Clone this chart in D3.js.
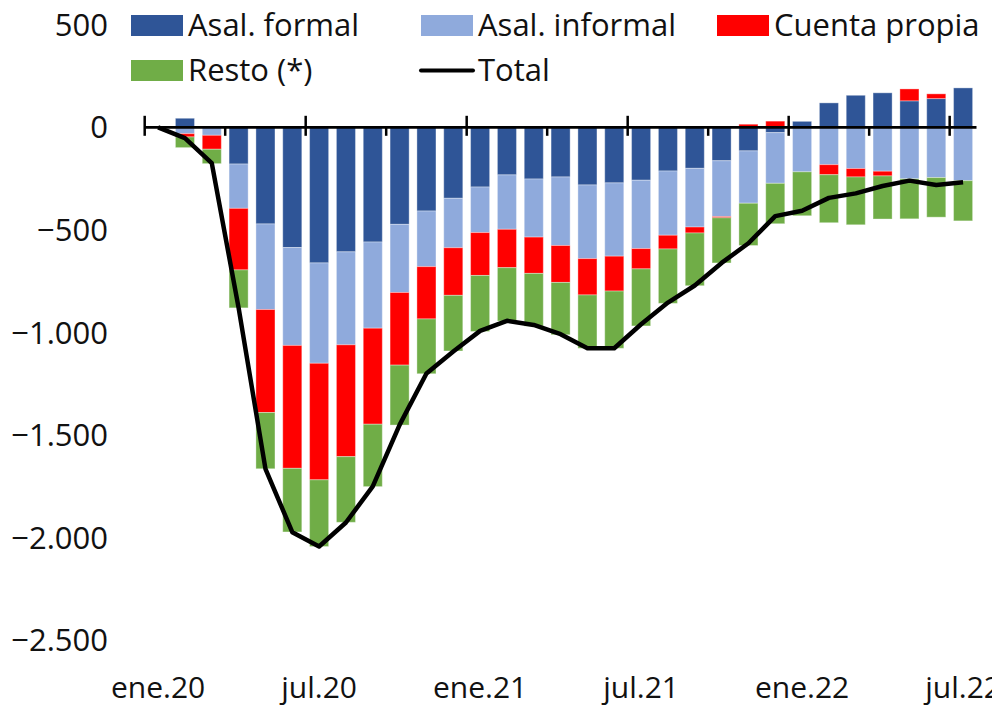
<!DOCTYPE html>
<html>
<head>
<meta charset="utf-8">
<script src="https://cdn.jsdelivr.net/npm/d3@7"></script>
<style>
body { margin: 0; background: #fff; }
text { font-family: "Open Sans", "DejaVu Sans", sans-serif; fill: #111; }
</style>
</head>
<body>
<div id="chart"></div>
<script>
// months ene.20 .. jul.22
var months = ["ene.20","feb.20","mar.20","abr.20","may.20","jun.20","jul.20","ago.20","sep.20","oct.20","nov.20","dic.20",
  "ene.21","feb.21","mar.21","abr.21","may.21","jun.21","jul.21","ago.21","sep.21","oct.21","nov.21","dic.21",
  "ene.22","feb.22","mar.22","abr.22","may.22","jun.22","jul.22"];
var seriesNames = ["Asal. formal","Asal. informal","Cuenta propia","Resto (*)"];
var asalFormal   = [0,44,-2,-179,-471,-586,-661,-607,-559,-473,-408,-346,-291,-232,-252,-242,-281,-271,-258,-213,-200,-163,-115,-26,29,119,156,168,129,140,192];
var asalInformal = [0,-31,-37,-216,-417,-477,-489,-453,-420,-332,-271,-241,-222,-265,-283,-334,-359,-357,-333,-313,-286,-272,-255,-247,-217,-182,-201,-214,-251,-245,-260];
var cuentaPropia = [0,-16,-68,-300,-502,-599,-568,-545,-468,-354,-255,-232,-209,-187,-177,-180,-177,-170,-99,-67,-29,-6,15,30,0,-49,-41,-23,58,23,0];
var resto        = [0,-52,-70,-185,-274,-310,-325,-320,-304,-292,-267,-271,-273,-260,-257,-255,-260,-279,-278,-265,-257,-220,-206,-197,-214,-234,-233,-210,-195,-193,-196];
var total        = [0,-53,-175,-880,-1664,-1973,-2043,-1926,-1750,-1450,-1200,-1093,-992,-943,-963,-1008,-1077,-1077,-960,-854,-771,-661,-565,-433,-407,-344,-322,-286,-260,-281,-268];
var yTicks = [500,0,-500,-1000,-1500,-2000,-2500];
var xLabels = ["ene.20","jul.20","ene.21","jul.21","ene.22","jul.22"];
var colors = ["#2F5597","#8FAADC","#FF0000","#70AD47"];

var width = 992, height = 707;
var locale = d3.formatLocale({decimal: ",", thousands: ".", grouping: [3], currency: ["", ""]});
var fmt = locale.format(",d");

var svg = d3.select("#chart").append("svg")
    .attr("width", width)
    .attr("height", height);

var x = d3.scaleBand()
    .domain(months)
    .range([144.7, 976.5])
    .paddingInner(0.29)
    .paddingOuter(0.145);

var y = d3.scaleLinear()
    .domain([-2500, 500])
    .range([640.3, 24.7]);

var table = months.map(function (m, i) {
    return { month: m, "Asal. formal": asalFormal[i], "Asal. informal": asalInformal[i],
             "Cuenta propia": cuentaPropia[i], "Resto (*)": resto[i] };
});

var stack = d3.stack()
    .keys(seriesNames)
    .offset(d3.stackOffsetDiverging);
var layers = stack(table);

// bars
svg.append("g").selectAll("g")
    .data(layers)
    .enter().append("g")
    .attr("fill", function (d, i) { return colors[i]; })
    .selectAll("rect")
    .data(function (d) { return d; })
    .enter().append("rect")
    .attr("x", function (d) { return x(d.data.month); })
    .attr("width", x.bandwidth())
    .attr("y", function (d) { return y(Math.max(d[0], d[1])); })
    .attr("height", function (d) { return Math.abs(y(d[0]) - y(d[1])); })
    .attr("stroke", "#fff")
    .attr("stroke-opacity", 0.35)
    .attr("stroke-width", 1);

// y labels (no axis line)
svg.append("g").selectAll("text")
    .data(yTicks)
    .enter().append("text")
    .attr("x", 108)
    .attr("y", function (d) { return y(d) + 11; })
    .style("text-anchor", "end")
    .style("font-size", "31px")
    .text(function (d) { return fmt(d); });

// x axis line and ticks
var step = x.step();
var gap = step - x.bandwidth();
var y0 = y(0);
var axis = svg.append("g");
axis.append("line")
    .attr("x1", x.range()[0]).attr("x2", x.range()[1])
    .attr("y1", y0).attr("y2", y0)
    .attr("stroke", "#000").attr("stroke-width", 2.8);
months.forEach(function (m, i) {
    if (i % 3 !== 0) return;
    var xp = x(m) - gap / 2;
    var major = i % 6 === 0;
    axis.append("line")
        .attr("x1", xp).attr("x2", xp)
        .attr("y1", major ? y0 - 11.5 : y0)
        .attr("y2", y0 + 8.5)
        .attr("stroke", "#000").attr("stroke-width", 2.5);
});

// x labels
svg.append("g").selectAll("text")
    .data(xLabels)
    .enter().append("text")
    .attr("x", function (d) { return x(d) + x.bandwidth() / 2; })
    .attr("y", 698)
    .style("text-anchor", "middle")
    .style("font-size", "30px")
    .text(function (d) { return d; });

// total line
var line = d3.line()
    .x(function (d, i) { return x(months[i]) + x.bandwidth() / 2; })
    .y(function (d) { return y(d); });
svg.append("path")
    .datum(total)
    .attr("d", line)
    .attr("fill", "none")
    .attr("stroke", "#000")
    .attr("stroke-width", 4.5)
    .attr("stroke-linejoin", "round");

// legend
var legendItems = [
    { name: "Asal. formal", x: 131, row: 0, color: colors[0] },
    { name: "Asal. informal", x: 421, row: 0, color: colors[1] },
    { name: "Cuenta propia", x: 717, row: 0, color: colors[2] },
    { name: "Resto (*)", x: 131, row: 1, color: colors[3] },
    { name: "Total", x: 421, row: 1, color: null }
];
var legend = svg.append("g");
legendItems.forEach(function (d) {
    var top = d.row === 0 ? 15 : 60;
    if (d.color) {
        legend.append("rect")
            .attr("x", d.x).attr("y", top)
            .attr("width", 52).attr("height", 21)
            .attr("fill", d.color);
    } else {
        legend.append("line")
            .attr("x1", d.x).attr("x2", d.x + 52)
            .attr("y1", top + 10.5).attr("y2", top + 10.5)
            .attr("stroke", "#000").attr("stroke-width", 4)
            .attr("stroke-linecap", "round");
    }
    legend.append("text")
        .attr("x", d.x + 57)
        .attr("y", top + 21)
        .style("font-size", "31px")
        .text(d.name);
});
</script>
</body>
</html>
